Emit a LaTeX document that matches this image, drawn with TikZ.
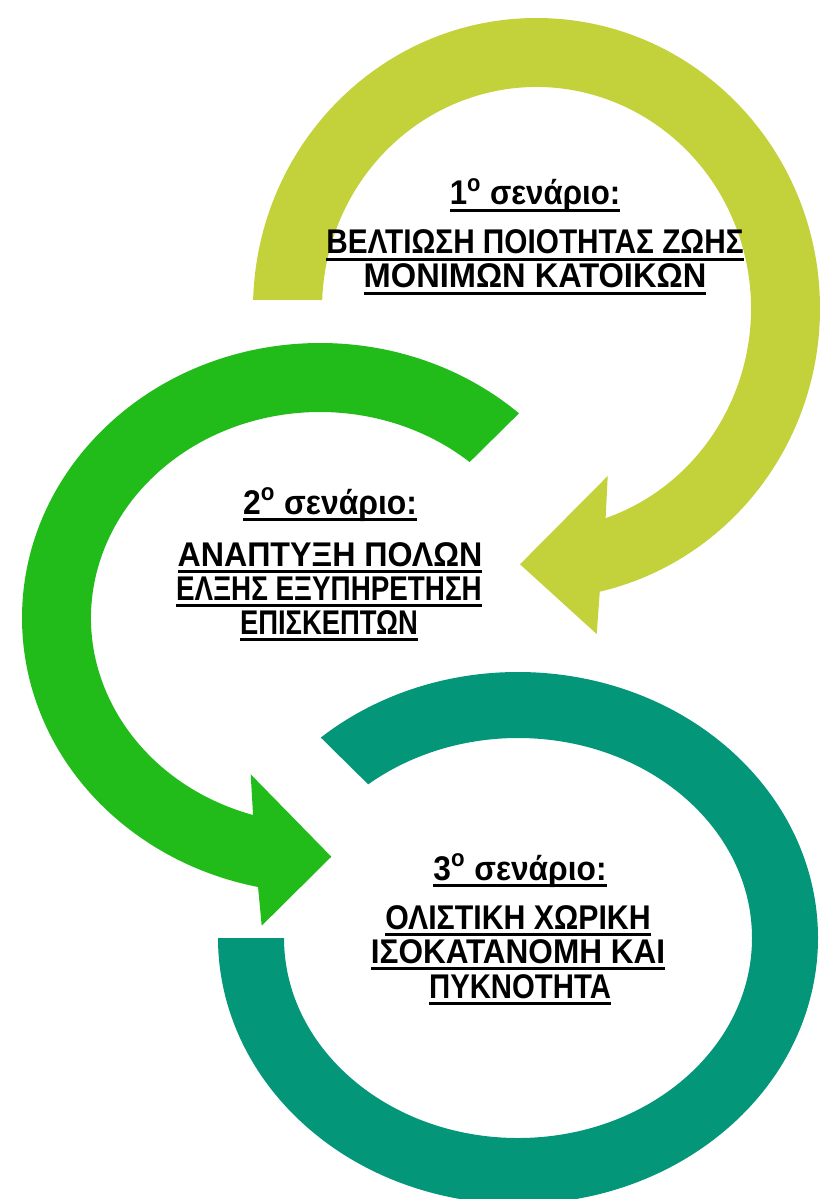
\documentclass[tikz,border=0pt]{standalone}
\usepackage{graphicx}
\usepackage{fontspec}
\setmainfont{Liberation Sans}[FakeStretch=0.93]
\definecolor{cyel}{HTML}{C3D13B}
\definecolor{cgrn}{HTML}{21BB1A}
\definecolor{cteal}{HTML}{039678}
\newsavebox\ulbox
\newcommand\ulx[1]{\sbox\ulbox{#1}\rlap{\rule[-3.8pt]{\wd\ulbox}{1.6pt}}\usebox\ulbox}
\newcommand\sxl[2]{\scalebox{#1}[1]{\ulx{#2}}}
\tikzset{
  lbl/.style={anchor=base, inner sep=0pt, text=black,
    font=\bfseries\fontsize{19.5}{23}\selectfont},
}
\begin{document}
\begin{tikzpicture}[x=0.02cm,y=0.02cm]
\useasboundingbox (0,0) rectangle (838,-1199);
\clip (0,0) rectangle (838,-1199);
% arrow 1 (yellow-green)
\fill[cyel] ([shift={(536.5,-308.5)}]178.3:283.5 and 290.5)
  arc[start angle=178.3, end angle=-77.1, x radius=283.5, y radius=290.5]
  -- (596.7,-634) -- (520,-564.3) -- (607.7,-476)
  -- ([shift={(536.5,-308.5)}]-71.2:214.5 and 221.5)
  arc[start angle=-71.2, end angle=177.8, x radius=214.5, y radius=221.5]
  -- cycle;
% arrow 2 (green)
\fill[cgrn] ([shift={(320,-618)}]48.1:298 and 275)
  arc[start angle=48.1, end angle=258, x radius=298, y radius=275]
  -- (261.7,-925.7) -- (331.3,-856.7) -- (250.7,-774.3)
  -- ([shift={(320,-618)}]253:229 and 206)
  arc[start angle=253, end angle=49.2, x radius=229, y radius=206]
  -- cycle;
% arrow 3 (teal)
\fill[cteal] ([shift={(518,-938)}]131.1:300 and 266)
  arc[start angle=131.1, end angle=-180, x radius=300, y radius=266]
  -- ([shift={(518,-938)}]-180:234 and 200)
  arc[start angle=-180, end angle=129.8, x radius=234, y radius=200]
  -- cycle;
% texts
\node[lbl] (s1t) at (535,-205) {\sxl{0.98}{1\textsuperscript{ο} σενάριο:}};
\node[lbl] (s1a) at (535,-254) {\sxl{0.934}{ΒΕΛΤΙΩΣΗ ΠΟΙΟΤΗΤΑΣ ΖΩΗΣ}};
\node[lbl] (s1b) at (535,-288) {\sxl{1.024}{ΜΟΝΙΜΩΝ ΚΑΤΟΙΚΩΝ}};
\node[lbl] (s2t) at (330,-514) {\sxl{1.0}{2\textsuperscript{ο} σενάριο:}};
\node[lbl] (s2a) at (330,-566) {\sxl{1.01}{ΑΝΑΠΤΥΞΗ ΠΟΛΩΝ}};
\node[lbl] (s2b) at (329,-600) {\sxl{0.873}{ΕΛΞΗΣ ΕΞΥΠΗΡΕΤΗΣΗ}};
\node[lbl] (s2c) at (329,-634) {\sxl{0.86}{ΕΠΙΣΚΕΠΤΩΝ}};
\node[lbl] (s3t) at (520,-880) {\sxl{0.995}{3\textsuperscript{ο} σενάριο:}};
\node[lbl] (s3a) at (518,-929) {\sxl{0.95}{ΟΛΙΣΤΙΚΗ ΧΩΡΙΚΗ}};
\node[lbl] (s3b) at (518,-963) {\sxl{0.99}{ΙΣΟΚΑΤΑΝΟΜΗ ΚΑΙ}};
\node[lbl] (s3c) at (520,-998) {\sxl{0.92}{ΠΥΚΝΟΤΗΤΑ}};
\end{tikzpicture}
\end{document}
